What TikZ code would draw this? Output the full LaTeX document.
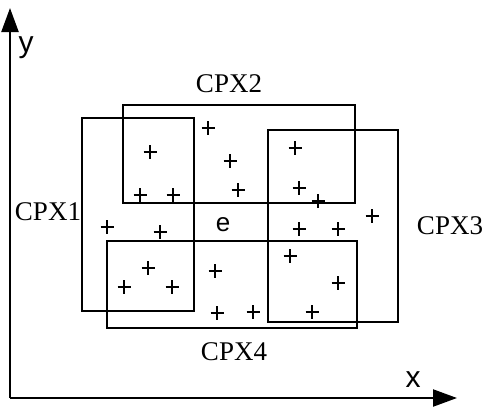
\documentclass[tikz,border=0pt]{standalone}
\usepackage{fontspec}
\setmainfont{Liberation Serif}
\newfontfamily\axfont{Liberation Sans}
\usetikzlibrary{arrows.meta}
\begin{document}
\begin{tikzpicture}[x=1pt,y=-1pt,
  boxline/.style={draw, line width=1.9pt},
  axisline/.style={line width=2.2pt, -{Triangle[length=24pt,width=17pt]}},
  mk/.style={line width=1.9pt},
  lbl/.style={inner sep=0pt, font=\fontsize{27}{30}\selectfont},
  axlbl/.style={inner sep=0pt, font=\axfont\fontsize{30}{32}\selectfont},
  elbl/.style={inner sep=0pt, font=\axfont\fontsize{26}{28}\selectfont}]
\useasboundingbox (0,0) rectangle (486,407);
% axes
\coordinate (O) at (10,398);
\coordinate (ytip) at (10,8);
\coordinate (xtip) at (457,398);
\draw[axisline] (O) -- (ytip);
\draw[axisline] (O) -- (xtip);
\node[axlbl] (ylab) at (26,48) {y};
\node[axlbl] (xlab) at (413,380) {x};
% rectangles
\draw[boxline] (82,118) rectangle (194,311);   % CPX1
\draw[boxline] (123,105) rectangle (355,203);  % CPX2
\draw[boxline] (268,130) rectangle (398,322);  % CPX3
\draw[boxline] (107,241) rectangle (357,328);  % CPX4
% labels
\node[lbl] (cpx1) at (48,212) {CPX1};
\node[lbl] (cpx2) at (229,84) {CPX2};
\node[lbl] (cpx3) at (450,226) {CPX3};
\node[lbl] (cpx4) at (234,352) {CPX4};
\node[elbl] (e) at (223,225) {e};
% points
\foreach \px/\py in {208/128, 150/152, 230/161, 140/195, 173/195, 238/190,
  295/148, 299/188, 318/201, 372/216, 107/227, 160/232, 299/229, 338/229,
  148/268, 124/287, 172/287, 215/271, 217/313, 253/312, 290/256, 338/283, 312/312}
{
  \draw[mk] (\px-6.5,\py) -- (\px+6.5,\py) (\px,\py-7) -- (\px,\py+7);
}
\end{tikzpicture}
\end{document}
